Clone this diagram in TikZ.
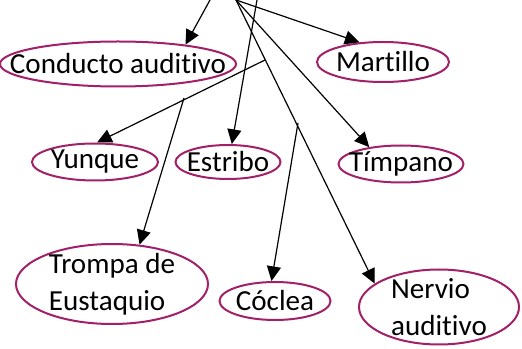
\documentclass[tikz,border=0pt]{standalone}
\usepackage{fontspec}
\setmainfont{Carlito}[Ligatures=NoCommon]
\usetikzlibrary{arrows.meta,shapes.geometric}
\definecolor{borde}{RGB}{162,32,104}
\tikzset{
    parte/.style={ellipse,draw=borde,line width=1.5pt,inner xsep=-30pt,inner ysep=-14pt,
        font=\fontsize{21.8}{28}\selectfont,align=left},
    flecha/.style={-{Triangle[length=11pt,width=10.5pt]},line width=0.9pt}
}
\begin{document}
\begin{tikzpicture}[x=0.75pt,y=-0.75pt]

        % Marco
        \useasboundingbox (0,0) rectangle (522,349);

        % Partes del oido
        \node[parte,minimum width=236pt*0.75,minimum height=45pt*0.75] (conducto) at (118,64) {Conducto auditivo};
        \node[parte,minimum width=132pt*0.75,minimum height=40pt*0.75] (martillo) at (383,62) {Martillo};
        \node[parte,minimum width=126pt*0.75,minimum height=37pt*0.75] (yunque) at (95,162) {Yunque};
        \node[parte,minimum width=105pt*0.75,minimum height=34pt*0.75] (estribo) at (228,162) {Estribo};
        \node[parte,minimum width=125pt*0.75,minimum height=37pt*0.75] (timpano) at (401,164) {Tímpano};
        \node[parte,minimum width=192pt*0.75,minimum height=80pt*0.75] (trompa) at (112,284) {Trompa de\\Eustaquio};
        \node[parte,minimum width=111pt*0.75,minimum height=38pt*0.75] (coclea) at (275,301) {Cóclea};
        \node[parte,minimum width=160pt*0.75,minimum height=75pt*0.75] (nervio) at (439,307) {Nervio\\auditivo};

        % Puntos de partida
        \coordinate (sup1) at (210,0);
        \coordinate (sup2) at (236,0);
        \coordinate (sup3) at (257,0);
        \coordinate (med1) at (265,60);
        \coordinate (med2) at (184,98);
        \coordinate (med3) at (298,123);

        % Flechas
        \draw[flecha] (sup1) -- (conducto.16);
        \draw[flecha] (sup2) -- (martillo.140);
        \draw[flecha] (sup2) -- (timpano.152);
        \draw[flecha] (sup2) -- (nervio.160);
        \draw[flecha] (sup3) -- (estribo.78);
        \draw[flecha] (med1) -- (yunque.84);
        \draw[flecha] (med2) -- (trompa.55);
        \draw[flecha] (med3) -- (coclea.100);

\end{tikzpicture}
\end{document}
